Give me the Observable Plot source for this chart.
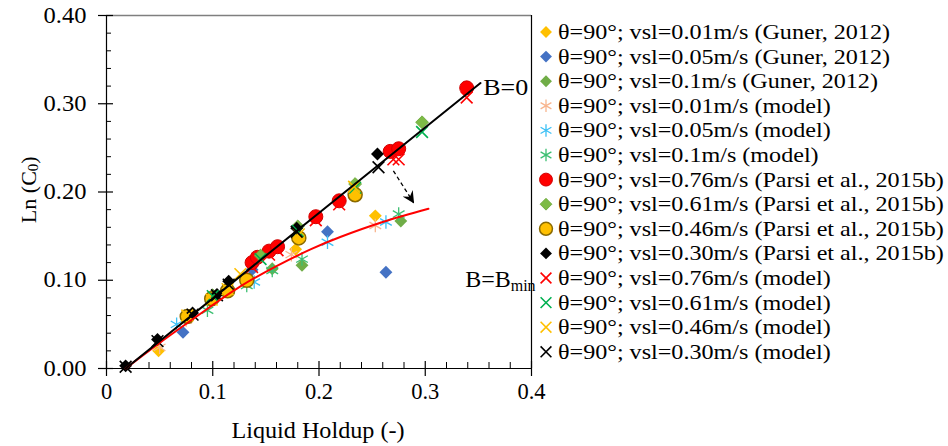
<!DOCTYPE html>
<html><head><meta charset="utf-8">
<script src="https://cdn.jsdelivr.net/npm/d3@7"></script>
<script src="https://cdn.jsdelivr.net/npm/@observablehq/plot@0.6"></script>
<style>
body{margin:0;background:#fff;}
#wrap{position:relative;width:948px;height:446px;background:#fff;}
#chart{position:absolute;left:0;top:0;}
#legend{position:absolute;left:535px;top:0;}
svg text{font-family:"Liberation Serif","Times New Roman",serif;}
</style></head>
<body><div id="wrap"><div id="chart"></div><div id="legend"></div></div>
<script>
// ---------- data ----------
const guner001X = [0.049, 0.075, 0.178, 0.253];
const guner001Y = [0.020, 0.058, 0.135, 0.173];
const guner005X = [0.072, 0.137, 0.208, 0.263];
const guner005Y = [0.041, 0.112, 0.155, 0.109];
const guner01X  = [0.156, 0.184, 0.277];
const guner01Y  = [0.113, 0.117, 0.167];
const model001X = [0.050, 0.075, 0.174, 0.253];
const model001Y = [0.024, 0.055, 0.129, 0.162];
const model005X = [0.066, 0.139, 0.208, 0.263];
const model005Y = [0.050, 0.098, 0.143, 0.166];
const model01X  = [0.095, 0.132, 0.156, 0.184, 0.275];
const model01Y  = [0.066, 0.094, 0.111, 0.124, 0.175];
const parsi076X = [0.137, 0.142, 0.153, 0.161, 0.197, 0.219, 0.267, 0.275, 0.339];
const parsi076Y = [0.120, 0.126, 0.133, 0.138, 0.172, 0.190, 0.246, 0.249, 0.318];
const parsi061X = [0.100, 0.145, 0.180, 0.234, 0.297];
const parsi061Y = [0.083, 0.128, 0.161, 0.209, 0.279];
const parsi046X = [0.076, 0.099, 0.114, 0.132, 0.181, 0.234];
const parsi046Y = [0.059, 0.079, 0.088, 0.100, 0.148, 0.197];
const parsi030X = [0.018, 0.048, 0.081, 0.104, 0.115, 0.179, 0.255];
const parsi030Y = [0.003, 0.033, 0.063, 0.084, 0.099, 0.159, 0.243];
const model076X = [0.137, 0.153, 0.161, 0.197, 0.219, 0.270, 0.275, 0.339];
const model076Y = [0.115, 0.129, 0.134, 0.168, 0.186, 0.237, 0.237, 0.307];
const model061X = [0.100, 0.145, 0.180, 0.234, 0.297];
const model061Y = [0.082, 0.124, 0.156, 0.205, 0.268];
const model046X = [0.076, 0.099, 0.114, 0.126, 0.181, 0.233];
const model046Y = [0.060, 0.078, 0.090, 0.107, 0.152, 0.206];
const model030X = [0.018, 0.048, 0.081, 0.104, 0.115, 0.179, 0.256];
const model030Y = [0.002, 0.031, 0.061, 0.083, 0.095, 0.155, 0.228];

const lineB0X   = [0.018, 0.352];
const lineB0Y   = [0.000, 0.3235];
const lineBminX = [0.018, 0.050, 0.093, 0.126, 0.160, 0.192, 0.220, 0.260, 0.303];
const lineBminY = [0.000, 0.029, 0.066, 0.093, 0.116, 0.135, 0.149, 0.166, 0.181];

const seriesLabels = [
 "θ=90°; vsl=0.01m/s (Guner, 2012)",
 "θ=90°; vsl=0.05m/s (Guner, 2012)",
 "θ=90°; vsl=0.1m/s (Guner, 2012)",
 "θ=90°; vsl=0.01m/s (model)",
 "θ=90°; vsl=0.05m/s (model)",
 "θ=90°; vsl=0.1m/s (model)",
 "θ=90°; vsl=0.76m/s (Parsi et al., 2015b)",
 "θ=90°; vsl=0.61m/s (Parsi et al., 2015b)",
 "θ=90°; vsl=0.46m/s (Parsi et al., 2015b)",
 "θ=90°; vsl=0.30m/s (Parsi et al., 2015b)",
 "θ=90°; vsl=0.76m/s (model)",
 "θ=90°; vsl=0.61m/s (model)",
 "θ=90°; vsl=0.46m/s (model)",
 "θ=90°; vsl=0.30m/s (model)"
];
const xMajor = [0, 0.1, 0.2, 0.3, 0.4];
const yMajor = [0, 0.1, 0.2, 0.3, 0.4];
const xLabel = "Liquid Holdup (-)";
const yLabelMain = "Ln (C";
const yLabelSub = "0";
const annoB0 = {x: 0.355, y: 0.318, text: "B=0"};
const annoBmin = {x: 0.338, y: 0.101, text: "B=B", sub: "min"};
const arrowPts = {x1: 0.270, y1: 0.224, x2: 0.289, y2: 0.188};

// ---------- styles ----------
const FONT = "Liberation Serif";
const styles = [
 {symbol:"diamond2", fill:"#FFC000", stroke:"none", r:5.8},
 {symbol:"diamond2", fill:"#4472C4", stroke:"none", r:5.8},
 {symbol:"diamond2", fill:"#70AD47", stroke:"none", r:5.8},
 {symbol:"asterisk", fill:"none", stroke:"#F8B58E", r:6.4, sw:1.3},
 {symbol:"asterisk", fill:"none", stroke:"#3CC0F5", r:6.4, sw:1.3},
 {symbol:"asterisk", fill:"none", stroke:"#3CBF72", r:6.4, sw:1.3},
 {symbol:"circle", fill:"#FF0000", stroke:"#D00000", r:7, sw:1},
 {symbol:"diamond2", fill:"#7DBB46", stroke:"#6AA63A", r:5.8, sw:0.8},
 {symbol:"circle", fill:"#FFC000", stroke:"#8A6A00", r:7, sw:1.5},
 {symbol:"diamond2", fill:"#000000", stroke:"none", r:5.8},
 {symbol:"times", fill:"none", stroke:"#FF0000", r:5.4, sw:1.6},
 {symbol:"times", fill:"none", stroke:"#00B050", r:5.4, sw:1.6},
 {symbol:"times", fill:"none", stroke:"#FFC000", r:5.4, sw:1.6},
 {symbol:"times", fill:"none", stroke:"#000000", r:5.4, sw:1.6}
];
const seriesData = [
 [guner001X, guner001Y], [guner005X, guner005Y], [guner01X, guner01Y],
 [model001X, model001Y], [model005X, model005Y], [model01X, model01Y],
 [parsi076X, parsi076Y], [parsi061X, parsi061Y], [parsi046X, parsi046Y], [parsi030X, parsi030Y],
 [model076X, model076Y], [model061X, model061Y], [model046X, model046Y], [model030X, model030Y]
];
const toRows = (xs, ys) => xs.map((x, i) => ({x, y: ys[i]}));

const W = 535, H = 446, mL = 106, mR = 4, mT = 15, mB = 78;
const pw = W - mL - mR, ph = H - mT - mB;
const xMinor = d3.range(0, 0.4001, 0.02).filter(v => Math.abs(v*10 - Math.round(v*10)) > 1e-6);
const yMinor = xMinor;

const dotMarks = seriesData.map(([xs, ys], i) => {
  const s = styles[i];
  return Plot.dot(toRows(xs, ys), {x:"x", y:"y", symbol: s.symbol, r: s.r, fill: s.fill, stroke: s.stroke, strokeWidth: s.sw || 1});
});

const plot = Plot.plot({
  width: W, height: H, marginLeft: mL, marginRight: mR, marginTop: mT, marginBottom: mB,
  x: {domain: [0, 0.4]}, y: {domain: [0, 0.4]},
  style: {fontFamily: FONT, fontSize: "22px", background: "#fff", color: "#000", overflow: "visible"},
  marks: [
    Plot.ruleY([0.4], {stroke: "#7f7f7f", strokeWidth: 1.5}),
    Plot.ruleX([0.4], {stroke: "#000", strokeWidth: 1.2}),
    Plot.tickY(yMajor, {y: d => d, insetLeft: -8, insetRight: pw - 7, stroke: "#000", strokeWidth: 1.2}),
    Plot.tickY(yMinor, {y: d => d, insetLeft: 0, insetRight: pw - 5, stroke: "#000", strokeWidth: 1}),
    Plot.tickX(xMajor, {x: d => d, insetTop: ph - 7, insetBottom: -8, stroke: "#000", strokeWidth: 1.2}),
    Plot.tickX(xMinor, {x: d => d, insetTop: ph - 6, insetBottom: 0, stroke: "#000", strokeWidth: 1}),
    Plot.ruleX([0], {stroke: "#000", strokeWidth: 1.2}),
    Plot.ruleY([0], {stroke: "#000", strokeWidth: 1.2}),
    Plot.axisY({ticks: yMajor, tickFormat: d => d.toFixed(2), tickSize: 0, tickPadding: 20, label: null, fontFamily: FONT, fontSize: 22.5}),
    Plot.axisX({ticks: xMajor, tickFormat: d => d === 0 ? "0" : String(d), tickSize: 0, tickPadding: 15, label: null, fontFamily: FONT, fontSize: 22.5}),
    ...dotMarks,
    Plot.line(toRows(lineBminX, lineBminY), {x:"x", y:"y", stroke:"#FF0000", strokeWidth: 2, curve: "natural"}),
    Plot.line(toRows(lineB0X, lineB0Y), {x:"x", y:"y", stroke:"#000", strokeWidth: 2}),
    Plot.link([arrowPts], {x1:"x1", y1:"y1", x2:"x2", y2:"y2", stroke:"#000", strokeWidth: 1.3, strokeDasharray: "4,3"})
  ]
});
document.getElementById("chart").appendChild(plot);

const sx = plot.scale("x"), sy = plot.scale("y");
const svg = d3.select(plot);
svg.selectAll("text").attr("font-family", FONT);
// widen y tick labels slightly, like the reference
svg.selectAll("g[aria-label='y-axis tick label'] text").each(function() {
  const w = this.getComputedTextLength();
  d3.select(this).attr("textLength", w * 1.09).attr("lengthAdjust", "spacingAndGlyphs");
});
// arrowhead marker
const defs = svg.append("defs");
defs.append("marker").attr("id", "stealth").attr("markerUnits", "userSpaceOnUse")
  .attr("viewBox", "0 0 12 12").attr("refX", 11).attr("refY", 6)
  .attr("markerWidth", 12).attr("markerHeight", 12).attr("orient", "auto")
  .append("path").attr("d", "M0,0 L12,6 L0,12 L4,6 Z").attr("fill", "#000");
svg.selectAll("g[aria-label=link] path").attr("marker-end", "url(#stealth)");

// annotations
svg.append("text").attr("x", sx.apply(annoB0.x)).attr("y", sy.apply(annoB0.y))
  .attr("text-anchor", "start").attr("dominant-baseline", "central").attr("font-size", 24).attr("font-family", FONT)
  .attr("textLength", 45).attr("lengthAdjust", "spacingAndGlyphs").text(annoB0.text);
const tb = svg.append("text").attr("x", sx.apply(annoBmin.x)).attr("y", sy.apply(annoBmin.y))
  .attr("text-anchor", "start").attr("dominant-baseline", "central").attr("font-size", 24).attr("font-family", FONT);
tb.append("tspan").text(annoBmin.text);
tb.append("tspan").attr("dy", 6).attr("font-size", 16).text(annoBmin.sub);

// axis titles
svg.append("text").attr("x", mL + pw * (212/425)).attr("y", 430).attr("text-anchor", "middle")
  .attr("dominant-baseline", "central").attr("font-size", 23).attr("font-family", FONT)
  .attr("textLength", 173).attr("lengthAdjust", "spacingAndGlyphs").text(xLabel);
const yt = svg.append("text").attr("transform", `translate(28,${mT + ph*0.495}) rotate(-90)`)
  .attr("text-anchor", "middle").attr("dominant-baseline", "central").attr("font-size", 22).attr("font-family", FONT);
yt.append("tspan").text(yLabelMain);
yt.append("tspan").attr("dy", 5).attr("font-size", 15).text(yLabelSub);
yt.append("tspan").attr("dy", -5).text(")");

// legend (SVG beside the chart)
const LW = 948 - 535, LH = 446;
const lsvg = d3.select("#legend").append("svg").attr("width", LW).attr("height", LH);
const rowY0 = 32, rowDY = 24.6, markX = 11, textX = 23;
const texts = [];
seriesLabels.forEach((lab, i) => {
  const s = styles[i];
  const cy = rowY0 + i * rowDY;
  const typ = {diamond2: d3.symbolDiamond2, asterisk: d3.symbolAsterisk, circle: d3.symbolCircle, times: d3.symbolTimes}[s.symbol];
  lsvg.append("path").attr("transform", `translate(${markX},${cy})`)
    .attr("d", d3.symbol(typ, Math.PI * s.r * s.r * 0.85)())
    .attr("fill", s.fill).attr("stroke", s.stroke).attr("stroke-width", s.sw || 1);
  texts.push(lsvg.append("text").attr("x", textX).attr("y", cy).attr("dominant-baseline", "central")
    .attr("font-family", FONT).attr("font-size", 21).attr("fill", "#000").text(lab));
});
const w0 = texts[0].node().getComputedTextLength();
const k = 332 / w0;
texts.forEach(t => {
  const w = t.node().getComputedTextLength();
  t.attr("textLength", w * k).attr("lengthAdjust", "spacingAndGlyphs");
});
</script></body></html>
